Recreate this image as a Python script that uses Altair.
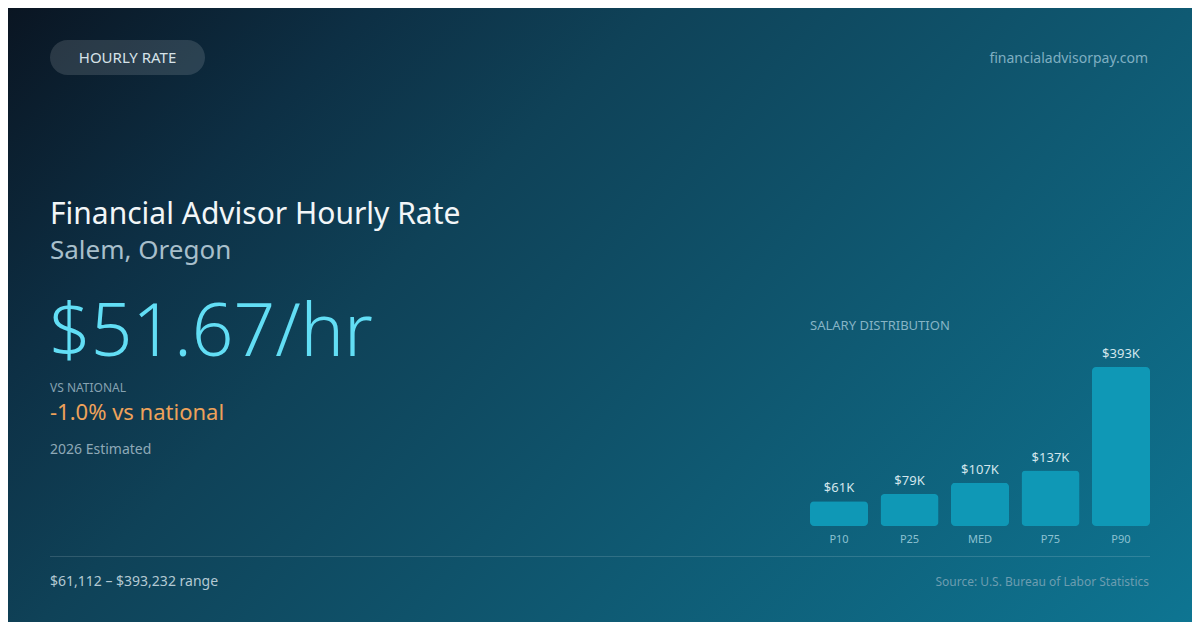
import altair as alt
import pandas as pd

# ---- data ----
categories = ["P10", "P25", "MED", "P75", "P90"]
salaries = [61112, 79000, 107000, 137000, 393232]
value_labels = ["$61K", "$79K", "$107K", "$137K", "$393K"]

badge_text = "HOURLY RATE"
site_text = "financialadvisorpay.com"
title_text = "Financial Advisor Hourly Rate"
subtitle_text = "Salem, Oregon"
big_value_text = "$51.67/hr"
vs_label_text = "VS NATIONAL"
vs_value_text = "-1.0% vs national"
estimate_text = "2026 Estimated"
dist_title_text = "SALARY DISTRIBUTION"
range_text = "$61,112 \u2013 $393,232 range"
source_text = "Source: U.S. Bureau of Labor Statistics"

df = pd.DataFrame({"cat": categories, "salary": salaries, "label": value_labels})

OFF = 8  # page margin; positions below are given in page pixels
W, H = 1200 - 2 * OFF, 630 - 2 * OFF
FONT = "Noto Sans"


def px(v):
    return v - OFF


one = alt.Data(values=[{"a": 1}])

# CSS-like 135deg gradient expressed in bounding-box units
ratio = H / W
norm = (1 + ratio) / (1 + ratio * ratio)
bg = alt.Chart(one).mark_rect(
    color=alt.LinearGradient(
        gradient="linear",
        stops=[
            alt.GradientStop(color="#0a1522", offset=0),
            alt.GradientStop(color="#0d2f44", offset=0.2),
            alt.GradientStop(color="#0f4258", offset=0.36),
            alt.GradientStop(color="#0f5a73", offset=0.66),
            alt.GradientStop(color="#0e7592", offset=1),
        ],
        x1=0, y1=0, x2=norm, y2=ratio * norm,
    )
).encode(x=alt.value(0), x2=alt.value(W), y=alt.value(0), y2=alt.value(H))

pill = alt.Chart(one).mark_rect(
    color="#ffffff", opacity=0.13, cornerRadius=17.5
).encode(x=alt.value(px(50)), x2=alt.value(px(205)), y=alt.value(px(40)), y2=alt.value(px(75)))


def txt(text, x, y, size, color, align="left", weight="normal"):
    return alt.Chart(one).mark_text(
        text=text, font=FONT, fontSize=size, color=color, align=align,
        baseline="alphabetic", fontWeight=weight,
    ).encode(x=alt.value(px(x)), y=alt.value(px(y)))


texts = [
    txt(badge_text, 127.5, 63, 15, "#d6e2e8", align="center"),
    txt(site_text, 1148, 63, 14, "#7fafc2", align="right"),
    txt(title_text, 50, 224, 30, "#f2f6f8"),
    txt(subtitle_text, 50, 259, 26, "#a8bfcb"),
    txt(big_value_text, 49, 356, 73, "#62def5", weight=300),
    txt(vs_label_text, 50, 392, 12, "#86a2b1"),
    txt(vs_value_text, 50, 420, 22, "#eea25a"),
    txt(estimate_text, 50, 454, 14, "#8ea9b7"),
    txt(dist_title_text, 810, 330, 13, "#86b4c5"),
    txt(range_text, 50, 586, 14, "#b3c9d3"),
    txt(source_text, 1149, 586, 12, "#6c9db0", align="right"),
]

sep = alt.Chart(one).mark_rule(color="#ffffff", opacity=0.14, strokeWidth=1).encode(
    x=alt.value(px(50)), x2=alt.value(px(1150)), y=alt.value(px(556.5))
)

xscale = alt.Scale(domain=categories, range=[px(810), px(1150)], paddingInner=0.177, paddingOuter=0)
yscale = alt.Scale(domain=[0, 393232], range=[px(526), px(367)], nice=False, zero=True)

base = alt.Chart(df).encode(
    x=alt.X("cat:N", scale=xscale, axis=None, sort=categories),
)

bars = base.mark_bar(color="#0f98b6", cornerRadius=4).encode(
    y=alt.Y("salary:Q", scale=yscale, axis=None),
)

bar_vals = base.mark_text(
    font=FONT, fontSize=13, color="#d3e6ec", baseline="alphabetic", dy=-9
).encode(y=alt.Y("salary:Q", scale=yscale, axis=None), text="label:N")

bar_cats = base.mark_text(
    font=FONT, fontSize=11, color="#8cc1d1", baseline="alphabetic"
).encode(y=alt.value(px(543)), text="cat:N")

chart = alt.layer(bg, pill, sep, *texts, bars, bar_vals, bar_cats).properties(
    width=W, height=H, padding=0, autosize=alt.AutoSizeParams(type="none"),
    background="#0e4a63",
).configure_view(stroke=None)

chart.save("out.html", embed_options={"renderer": "svg", "actions": False})
